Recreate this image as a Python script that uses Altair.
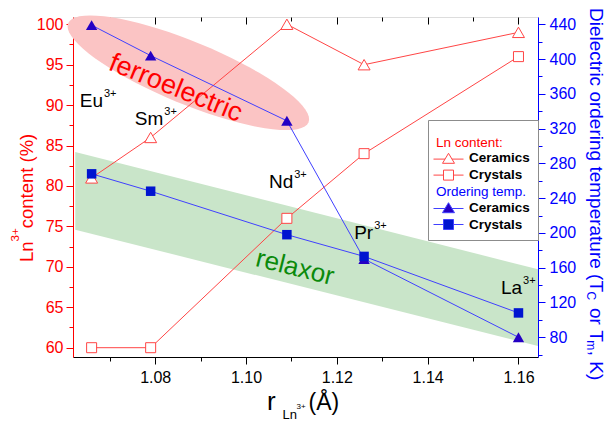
import altair as alt
import pandas as pd
import numpy as np

# ---------------- data ----------------
ions = ["Eu", "Sm", "Nd", "Pr", "La"]
radius = [1.066, 1.079, 1.109, 1.126, 1.160]           # r_Ln3+ (Å)
ln_ceramics = [81, 86, 100, 95, 99]                      # Ln3+ content (%), ceramics
ln_crystals = [60, 60, 76, 84, 96]                       # Ln3+ content (%), crystals
t_ceramics = [439, 404, 329, 170, 80]                    # ordering temperature (K), ceramics
t_crystals = [268, 248, 198, 173, 108]                   # ordering temperature (K), crystals

# ion label anchors (data coordinates of the left axis)
label_x = [1.0685, 1.0818, 1.1104, 1.1280, 1.1608]
label_y = [89.8, 87.6, 79.8, 73.4, 66.6]

# phase region annotations
phase_names = ["ferroelectric", "relaxor"]
phase_x = [1.0845, 1.1108]
phase_y = [92.1, 69.9]
ellipse_x = [1.0873]
ellipse_y = [94.0]
band_x = [1.0624, 1.1643]
band_top = [84.2, 69.7]
band_bottom = [74.6, 60.2]

x_ticks = [1.07, 1.08, 1.09, 1.10, 1.11, 1.12, 1.13, 1.14, 1.15, 1.16]
left_ticks = [60, 62.5, 65, 67.5, 70, 72.5, 75, 77.5, 80, 82.5, 85, 87.5, 90, 92.5, 95, 97.5, 100]
right_ticks = [60, 80, 100, 120, 140, 160, 180, 200, 220, 240, 260, 280, 300, 320, 340, 360, 380, 400, 420, 440]

legend_domain = ["Ln content:", "Ln-Ceramics", "Ln-Crystals", "Ordering temp.", "T-Ceramics", "T-Crystals"]

# ---------------- style ----------------
FONT = "Liberation Sans"
RED_AX = "#ff0000"
RED = "#ff4545"
BLUE_AX = "#0000ff"
BLUE_LINE = "#4040ff"
BLUE_TRI = "#2400c4"
BLUE_SQ = "#0014d0"
PINK = "#fbc4c4"
GREEN_BAND = "#c9e5c9"
GREEN_TEXT = "#0b8a0b"
NB = "\u00a0"

W, H = 465, 340
X_DOMAIN = [1.0619, 1.1643]
LEFT_DOMAIN = [58.85, 100.9]
RIGHT_DOMAIN = [57.3, 448.4]

xscale = alt.Scale(domain=X_DOMAIN, nice=False, zero=False)
lscale = alt.Scale(domain=LEFT_DOMAIN, nice=False, zero=False)
rscale = alt.Scale(domain=RIGHT_DOMAIN, nice=False, zero=False)

x_major = "round(datum.value*100) % 2 == 0"
x_axis = alt.Axis(orient="bottom", values=x_ticks, title=None, grid=False,
                  labelExpr=f"{x_major} ? format(datum.value, '.2f') : ''",
                  tickSize={"condition": {"test": x_major, "value": 7}, "value": 4},
                  domainColor="black", tickColor="black", labelColor="black",
                  labelFont=FONT, labelFontSize=16, labelPadding=5, labelFlush=False,
                  labelOverlap=False)
top_axis = alt.Axis(orient="bottom", offset=-H, values=x_ticks, title=None, grid=False,
                    labels=False, domain=False, tickColor="black",
                    tickSize={"condition": {"test": x_major, "value": 7}, "value": 4})
left_axis = alt.Axis(orient="left", values=left_ticks, title=None, grid=False,
                     labelExpr="datum.value % 5 == 0 ? format(datum.value, 'd') : ''",
                     tickSize={"condition": {"test": "datum.value % 5 == 0", "value": 7}, "value": 4},
                     domainColor=RED_AX, tickColor=RED_AX, labelColor=RED_AX,
                     labelFont=FONT, labelFontSize=16, labelPadding=3, labelOverlap=False,
                     labelFlush=False)
right_axis = alt.Axis(orient="right", values=right_ticks, title=None, grid=False,
                      labelExpr="datum.value % 40 == 0 ? format(datum.value, 'd') : ''",
                      tickSize={"condition": {"test": "datum.value % 40 == 0", "value": 7}, "value": 4},
                      domainColor=BLUE_AX, tickColor=BLUE_AX, labelColor=BLUE_AX,
                      labelFont=FONT, labelFontSize=16, labelPadding=4, labelOverlap=False,
                      labelFlush=False)

# legend symbols: short line + marker
TRI_SYM = ("M -1.875 0.1 L -0.435 0.1 M 0.435 0.1 L 1.875 0.1 "
           "M 0 -0.625 L 0.75 0.625 L -0.75 0.625 Z")
SQ_SYM = ("M -1.875 0 L -0.625 0 M 0.625 0 L 1.875 0 "
          "M -0.625 -0.625 L 0.625 -0.625 L 0.625 0.625 L -0.625 0.625 Z")
EMPTY_SYM = "M 0 0 Z"
is_head = "(datum.value == 'Ln content:' || datum.value == 'Ordering temp.')"
legend = alt.Legend(
    title=NB, titleFontSize=6, titlePadding=0, titleLineHeight=6,
    orient="none", legendX=355, legendY=103, direction="vertical",
    padding=8, strokeColor="#8c8c8c", fillColor="white", cornerRadius=0,
    labelFont=FONT, labelFontSize=13.5, labelLimit=300,
    labelOffset=alt.ExprRef(expr=f"{is_head} ? -21 : 12"),
    labelColor=alt.ExprRef(expr=f"datum.value == 'Ln content:' ? '{RED_AX}' : datum.value == 'Ordering temp.' ? '{BLUE_AX}' : 'black'"),
    labelFontWeight=alt.ExprRef(expr=f"{is_head} ? 'normal' : 'bold'"),
    symbolSize=256, symbolOffset=4, rowPadding=0.8, symbolOpacity=1, symbolStrokeWidth=1,
    symbolFillColor=alt.ExprRef(expr=f"datum.value == 'T-Ceramics' ? '{BLUE_TRI}' : datum.value == 'T-Crystals' ? '{BLUE_SQ}' : 'white'"),
    symbolStrokeColor=alt.ExprRef(expr=f"indexof(datum.value, 'Ln') == 0 ? '{RED}' : '{BLUE_LINE}'"),
    labelExpr="indexof(datum.label, '-') > 0 ? slice(datum.label, indexof(datum.label, '-') + 1) : datum.label",
)
shape_scale = alt.Scale(domain=legend_domain,
                        range=[EMPTY_SYM, TRI_SYM, SQ_SYM, EMPTY_SYM, TRI_SYM, SQ_SYM])

# ---------------- tables ----------------
def series_df(values, name):
    return pd.DataFrame({"r": radius, "v": values, "series": name})

ln_cer_df = series_df(ln_ceramics, "Ln-Ceramics")
ln_cry_df = series_df(ln_crystals, "Ln-Crystals")
t_cer_df = series_df(t_ceramics, "T-Ceramics")
t_cry_df = series_df(t_crystals, "T-Crystals")
band_df = pd.DataFrame({"x": band_x, "top": band_top, "bottom": band_bottom})
ell_df = pd.DataFrame({"x": ellipse_x, "y": ellipse_y})
phase_df = pd.DataFrame({"x": phase_x, "y": phase_y, "name": phase_names})
label_df = pd.DataFrame({"x": label_x, "y": label_y, "ion": ions, "sup": ["3+"] * len(ions)})

t = np.linspace(0, 2 * np.pi, 73)
ELLIPSE = "M " + " L ".join(f"{np.cos(a):.4f} {0.24 * np.sin(a):.4f}" for a in t) + " Z"

def X(field="r"):
    return alt.X(f"{field}:Q", scale=xscale, axis=x_axis)

def YL(field="v"):
    return alt.Y(f"{field}:Q", scale=lscale, axis=left_axis)

def YR(field="v"):
    return alt.Y(f"{field}:Q", scale=rscale, axis=right_axis)

def XT(field="r"):
    return alt.X(f"{field}:Q", scale=xscale, axis=top_axis)

# ---------------- left (Ln content) group ----------------
band = alt.Chart(band_df).mark_area(color=GREEN_BAND, opacity=1).encode(
    x=X("x"), y=YL("top"), y2="bottom:Q")
ellipse = alt.Chart(ell_df).mark_point(shape=ELLIPSE, size=260 * 260, angle=22.4, filled=True,
                                       color=PINK, opacity=1, strokeWidth=0).encode(x=X("x"), y=YL("y"))
ferro = alt.Chart(phase_df.iloc[[0]]).mark_text(angle=22, fontSize=27, font=FONT, color=RED_AX,
                                                align="center", baseline="middle").encode(
    x=X("x"), y=YL("y"), text="name:N")
relax = alt.Chart(phase_df.iloc[[1]]).mark_text(angle=14, fontSize=26, font=FONT, color=GREEN_TEXT,
                                                align="center", baseline="middle").encode(
    x=X("x"), y=YL("y"), text="name:N")

red_layers = []
for df in [ln_cer_df, ln_cry_df]:
    red_layers.append(alt.Chart(df).mark_line(color=RED, strokeWidth=1).encode(x=X(), y=YL()))
for df, shp, size in [(ln_cer_df, "triangle-up", 144), (ln_cry_df, "square", 100)]:
    red_layers.append(alt.Chart(df).mark_point(shape=shp, filled=True, fill="white", stroke=RED,
                                               strokeWidth=1, size=size, opacity=1).encode(x=X(), y=YL()))

# invisible layer (no rows survive the filter) that only carries the legend
legend_layer = alt.Chart(ln_cer_df).transform_filter("false").mark_point(filled=True, strokeWidth=1).encode(
    x=X(), y=YL(),
    shape=alt.Shape("series:N", scale=shape_scale, legend=legend),
    color=alt.Color("series:N", scale=None))

ion_main = alt.Chart(label_df).mark_text(align="right", baseline="alphabetic", fontSize=19,
                                         font=FONT, color="black").encode(x=X("x"), y=YL("y"), text="ion:N")
ion_sup = alt.Chart(label_df).mark_text(align="left", baseline="alphabetic", fontSize=11, dx=1, dy=-10,
                                        font=FONT, color="black").encode(x=X("x"), y=YL("y"), text="sup:N")

left = alt.layer(band, ellipse, *red_layers, ferro, relax, ion_main, ion_sup, legend_layer)

# ---------------- right (ordering temperature) group ----------------
blue_layers = []
for df in [t_cer_df, t_cry_df]:
    blue_layers.append(alt.Chart(df).mark_line(color=BLUE_LINE, strokeWidth=1).encode(x=XT(), y=YR()))
blue_layers.append(alt.Chart(t_cer_df).mark_point(shape="triangle-up", filled=True, color=BLUE_TRI,
                                                  size=130, opacity=1, strokeWidth=0).encode(x=XT(), y=YR()))
blue_layers.append(alt.Chart(t_cry_df).mark_point(shape="square", filled=True, color=BLUE_SQ,
                                                  size=90, opacity=1, strokeWidth=0).encode(x=XT(), y=YR()))
right = alt.layer(*blue_layers)

# ---------------- axis titles with sub/superscripts ----------------
ARIAL = {" ": 278, NB: 278, "(": 333, ")": 333, "%": 889, ",": 278, ".": 278, ":": 278, "+": 584,
         "3": 556, "A": 667, "C": 722, "D": 722, "K": 667, "L": 556, "T": 611, "Å": 667,
         "a": 556, "c": 500, "d": 556, "e": 556, "g": 556, "i": 222, "l": 222, "m": 833,
         "n": 556, "o": 556, "p": 556, "r": 333, "t": 278, "u": 556}

def tw(s, size):
    return sum(ARIAL.get(ch, 556) for ch in s) * size / 1000.0

def piece(text, x, y, size, angle, color):
    return alt.Chart(alt.Data(values=[{}])).mark_text(
        text=text, fontSize=size, angle=angle, align="left", baseline="alphabetic",
        font=FONT, color=color).encode(x=alt.value(x), y=alt.value(y))

title_layers = []
# right title, reading downward (last value: extra gap after the piece)
pos = -9.0
for txt, size, shift, gap in [(f"Dielectric{NB}ordering{NB}temperature{NB}(T", 19, 0, -0.5),
                              ("C", 12, -3, 2.5),
                              (f"or{NB}T", 19, 0, -1.5),
                              ("m", 12, -3, 0.5),
                              (f",{NB}K)", 19, 0, 0)]:
    title_layers.append(piece(txt, 517 + shift, pos, size, 90, BLUE_AX))
    pos += tw(txt, size) + gap
    if txt == "C":
        pos += tw(NB, 19)
# left title, reading upward
pos = 245.0
for txt, size, shift in [("Ln", 18.5, 0), ("3+", 11.5, -14), (f"{NB}content{NB}(%)", 18.5, 0)]:
    title_layers.append(piece(txt, -40.5 + shift, pos, size, 270, RED_AX))
    pos -= tw(txt, size)
# x title
title_layers.append(piece("r", 194, 393, 26, 0, "black"))
title_layers.append(piece("Ln", 209.5, 402, 13, 0, "black"))
title_layers.append(piece("3+", 223.5, 392, 8, 0, "black"))
title_layers.append(piece("(Å)", 235.5, 393, 23, 0, "black"))
titles = alt.layer(*title_layers)

chart = (
    alt.layer(left, right, titles)
    .resolve_scale(y="independent")
    .resolve_axis(x="independent", y="independent")
    .properties(width=W, height=H, padding={"left": 73, "top": 17, "right": 71, "bottom": 69},
                autosize=alt.AutoSizeParams(type="none"), background="white")
    .configure_view(stroke="black", strokeWidth=1)
    .configure(font=FONT)
)

chart.save("out.html", embed_options={"renderer": "svg", "actions": False})
